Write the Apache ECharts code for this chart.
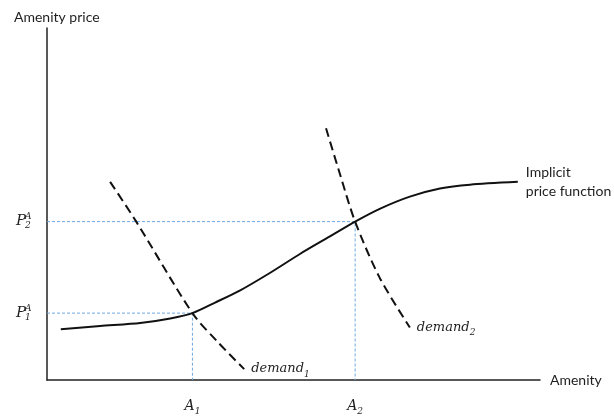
<!DOCTYPE html>
<html><head><meta charset="utf-8">
<script src="https://cdn.jsdelivr.net/npm/echarts@6/dist/echarts.min.js"></script>
<style>html,body{margin:0;padding:0;background:#fff}#c{width:614px;height:416px}</style>
</head><body><div id="c"></div>
<script>
// Implicit price function (hedonic curve)
const priceFnX = [2.8, 10.8, 18.9, 25, 29.5, 34.1, 39.1, 45.2, 51.3, 57.4, 62.5, 67.6, 73.6, 79.7, 85.8, 95.5];
const priceFnY = [14.4, 15.35, 16.2, 17.5, 19, 22, 25.4, 30.4, 35.8, 40.8, 45, 48.7, 52.1, 54.4, 55.5, 56.3];
// Demand curves
const demand1X = [12.8, 18.1, 29.5, 34.7, 40];
const demand1Y = [56.3, 45, 19, 10.7, 3.1];
const demand2X = [56.6, 59.4, 62.5, 67.5, 73.6];
const demand2Y = [71.5, 58.6, 45, 29, 14.9];
// Equilibrium amenity levels and prices
const amenityTicks = [29.5, 62.5];
const amenityNames = ['1', '2'];
const priceTicks = [19, 45];
const priceNames = ['1', '2'];

const zip = (xs, ys) => xs.map((x, i) => [x, ys[i]]);
const TXT = '#1e1e1e';
const SERIF = 'DejaVu Serif';
const SANS = 'Lato';

const guideSeries = amenityTicks.map((a, i) => ({
  type: 'line', symbol: 'none', silent: true, z: 1,
  data: [[0, priceTicks[i]], [a, priceTicks[i]], [a, 0]],
  lineStyle: { color: '#6ea8e0', width: 1, type: [3, 2] }
}));

const subRich = {
  d: { fontFamily: SERIF, fontStyle: 'italic', fontSize: 13, color: TXT, lineHeight: 20, verticalAlign: 'middle' },
  s: { fontFamily: SERIF, fontStyle: 'italic', fontSize: 9, color: TXT, lineHeight: 10, verticalAlign: 'bottom' }
};

const chart = echarts.init(document.getElementById('c'), null, { renderer: 'canvas' });
chart.setOption({
  animation: false,
  title: { text: 'Amenity price', left: 9, top: 5,
    textStyle: { fontFamily: SANS, fontSize: 14, fontWeight: 'normal', color: TXT } },
  grid: { left: 47, right: 74, top: 28, bottom: 33, containLabel: false },
  xAxis: {
    type: 'value', min: 0, max: 100,
    name: 'Amenity', nameLocation: 'end', nameGap: 10,
    nameTextStyle: { fontFamily: SANS, fontSize: 14, color: TXT },
    axisLine: { show: true, lineStyle: { color: '#222', width: 1.5 } },
    axisTick: { show: false }, splitLine: { show: false },
    axisLabel: {
      show: true, customValues: amenityTicks, margin: 16,
      formatter: (v) => '{d|A}{s|' + amenityNames[amenityTicks.indexOf(v)] + '}',
      rich: {
        d: { fontFamily: SERIF, fontStyle: 'italic', fontSize: 14, color: TXT, lineHeight: 20, verticalAlign: 'middle' },
        s: { fontFamily: SERIF, fontStyle: 'italic', fontSize: 9, color: TXT, lineHeight: 10, verticalAlign: 'bottom' }
      }
    }
  },
  yAxis: {
    type: 'value', min: 0, max: 100,
    axisLine: { show: true, lineStyle: { color: '#222', width: 1.5 } },
    axisTick: { show: false }, splitLine: { show: false }, axisLabel: { show: false }
  },
  series: [
    ...guideSeries,
    {
      type: 'line', symbol: 'none', smooth: 0.25, z: 3,
      data: zip(priceFnX, priceFnY),
      lineStyle: { color: '#111', width: 2 },
      endLabel: { show: true, distance: 8, formatter: 'Implicit\nprice function',
        fontFamily: SANS, fontSize: 14, lineHeight: 19, color: TXT, align: 'left' }
    },
    {
      type: 'line', symbol: 'none', smooth: 0.3, z: 2,
      data: zip(demand1X, demand1Y),
      lineStyle: { color: '#111', width: 2, type: [9, 5] },
      endLabel: { show: true, distance: 7, formatter: '{d|demand}{s|1}', rich: subRich }
    },
    {
      type: 'line', symbol: 'none', smooth: 0.3, z: 2,
      data: zip(demand2X, demand2Y),
      lineStyle: { color: '#111', width: 2, type: [9, 5] },
      endLabel: { show: true, distance: 7, formatter: '{d|demand}{s|2}', rich: subRich }
    }
  ]
});

// Y-axis price labels P_i^A placed through the axis scale
const graphics = [];
priceTicks.forEach((p, i) => {
  const pt = chart.convertToPixel({ gridIndex: 0 }, [0, p]);
  graphics.push({
    type: 'text', x: pt[0] - 31, y: pt[1], silent: true,
    style: { text: 'P', fontFamily: SERIF, fontStyle: 'italic', fontSize: 15, fill: TXT,
      verticalAlign: 'middle', align: 'left' }
  });
  graphics.push({
    type: 'text', x: pt[0] - 22, y: pt[1], silent: true,
    style: { text: 'A\n' + priceNames[i], fontFamily: SERIF, fontStyle: 'italic', fontSize: 9,
      lineHeight: 9, fill: TXT, verticalAlign: 'middle', align: 'left' }
  });
});
chart.setOption({ graphic: graphics });
</script></body></html>
